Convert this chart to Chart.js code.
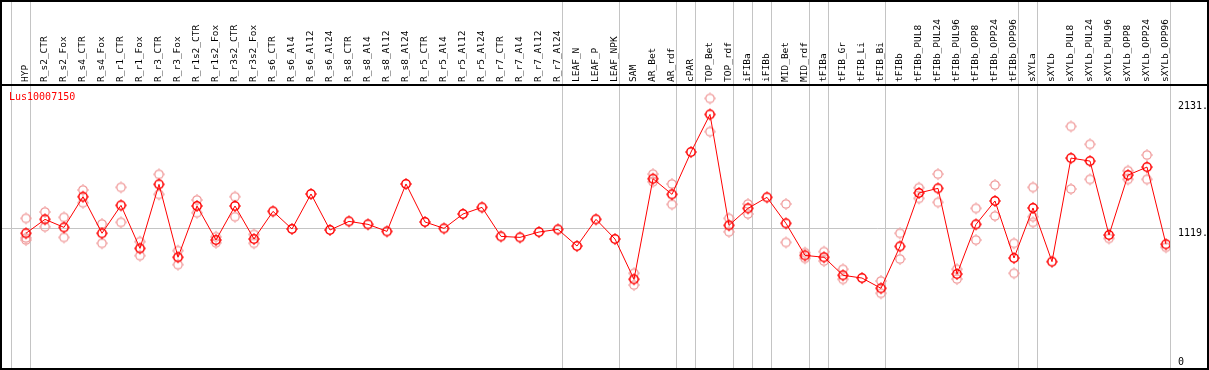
<!DOCTYPE html>
<html><head><meta charset="utf-8">
<script src="https://cdn.jsdelivr.net/npm/chart.js@4.4.1/dist/chart.umd.min.js"></script>
<style>html,body{margin:0;padding:0;background:#fff}#wrap{width:1209px;height:370px;position:relative}</style>
</head><body><div id="wrap"><canvas id="c"></canvas></div>
<script>
const categories = ['HYP','R_s2_CTR','R_s2_Fox','R_s4_CTR','R_s4_Fox','R_r1_CTR','R_r1_Fox','R_r3_CTR','R_r3_Fox','R_r1s2_CTR','R_r1s2_Fox','R_r3s2_CTR','R_r3s2_Fox','R_s6_CTR','R_s6_Al4','R_s6_Al12','R_s6_Al24','R_s8_CTR','R_s8_Al4','R_s8_Al12','R_s8_Al24','R_r5_CTR','R_r5_Al4','R_r5_Al12','R_r5_Al24','R_r7_CTR','R_r7_Al4','R_r7_Al12','R_r7_Al24','LEAF_N','LEAF_P','LEAF_NPK','SAM','AR_Bet','AR_rdf','cPAR','TOP_Bet','TOP_rdf','iFIBa','iFIBb','MID_Bet','MID_rdf','tFIBa','tFIB_Gr','tFIB_Li','tFIB_Bi','tFIBb','tFIBb_PUL8','tFIBb_PUL24','tFIBb_PUL96','tFIBb_OPP8','tFIBb_OPP24','tFIBb_OPP96','sXYLa','sXYLb','sXYLb_PUL8','sXYLb_PUL24','sXYLb_PUL96','sXYLb_OPP8','sXYLb_OPP24','sXYLb_OPP96'];
const meanValues = [1077,1188,1124,1369,1077,1300,956,1468,885,1295,1023,1295,1031,1252,1111,1391,1103,1172,1148,1092,1471,1167,1116,1231,1284,1052,1044,1087,1108,975,1188,1031,709,1513,1388,1726,2027,1140,1276,1364,1156,900,885,741,719,637,972,1399,1436,751,1148,1335,879,1279,850,1678,1654,1063,1542,1606,989];
const repHigh = [1196,1247,1204,1423,1151,1444,1010,1548,938,1343,1049,1369,1068,null,null,null,null,null,null,null,null,null,null,null,null,null,null,null,null,null,null,null,757,1550,1471,null,2155,1196,1311,null,1311,922,930,789,null,695,1077,1441,1550,789,1276,1463,997,1444,null,1931,1788,null,1577,1702,null];
const repLow = [1023,1129,1044,1321,997,1164,898,1388,826,1241,1001,1209,997,null,null,null,null,null,null,null,null,null,null,null,null,null,null,null,null,null,null,null,663,1489,1308,null,1889,1089,1231,null,1004,877,855,709,null,597,871,1356,1324,711,1023,1215,757,1164,null,1431,1508,1036,1508,1508,965];
const repExtra = [1040,null,null,null,null,null,null,null,null,null,null,null,null,null,null,null,null,null,null,null,null,null,null,null,null,null,null,null,null,null,null,null,null,null,null,null,null,null,null,null,null,null,null,null,null,null,null,null,null,null,null,null,null,1209,null,null,null,null,null,null,null];
const yTickValues = [0, 1119, 2131];
const yTickLabels = ['0', '1119.', '2131.'];
const groupEnds = [-1, 0, 28, 31, 34, 35, 37, 38, 39, 41, 42, 45, 52, 53, 60];
const geneName = 'Lus10007150';

function marker(color, lw) {
  const c = document.createElement('canvas');
  c.width = 14; c.height = 14;
  const g = c.getContext('2d');
  g.strokeStyle = color; g.lineWidth = lw;
  g.beginPath(); g.arc(7, 7, 4.2, 0, Math.PI * 2); g.stroke();
  g.fillStyle = color;
  g.fillRect(6.5, 1, 1, 1.2);
  g.fillRect(6.5, 11.8, 1, 1.2);
  g.fillRect(1, 6.5, 1.2, 1);
  g.fillRect(11.8, 6.5, 1.2, 1);
  return c;
}
const mainMarker = marker('#ff0000', 1.5);
const paleMarker = marker('#f09a9a', 1.3);

const toPts = arr => arr.map((v, i) => v == null ? null : {x: i, y: v}).filter(p => p);

const decor = {
  id: 'decor',
  beforeDraw(chart) {
    const {ctx, chartArea, scales: {x}} = chart;
    ctx.save();
    ctx.strokeStyle = '#c4c4c4'; ctx.lineWidth = 1;
    groupEnds.forEach(i => {
      const px = Math.round(x.getPixelForValue(i + 0.23)) + 0.5;
      ctx.beginPath(); ctx.moveTo(px, 0); ctx.lineTo(px, chartArea.bottom); ctx.stroke();
    });
    ctx.restore();
  },
  afterDraw(chart) {
    const {ctx, chartArea} = chart;
    ctx.save();
    ctx.fillStyle = '#000';
    ctx.fillRect(0, 0, 1209, 2);
    ctx.fillRect(0, chartArea.top - 1, 1209, 2);
    ctx.fillRect(0, chartArea.bottom, 1209, 2);
    ctx.fillRect(0, 0, 2, 370);
    ctx.fillRect(1207, 0, 2, 370);
    ctx.fillStyle = '#ff0000';
    ctx.font = '10px "DejaVu Sans Mono"';
    ctx.textBaseline = 'middle';
    ctx.fillText(geneName, chartArea.left + 8, chartArea.top + 12);
    ctx.restore();
  }
};

new Chart(document.getElementById('c'), {
  type: 'line',
  data: {
    datasets: [
      {data: toPts(meanValues), borderColor: '#ff0000', borderWidth: 1, pointStyle: mainMarker, pointRadius: 5, tension: 0, fill: false},
      {data: toPts(repHigh), showLine: false, pointStyle: paleMarker, pointRadius: 5},
      {data: toPts(repLow), showLine: false, pointStyle: paleMarker, pointRadius: 5},
      {data: toPts(repExtra), showLine: false, pointStyle: paleMarker, pointRadius: 5}
    ]
  },
  options: {
    responsive: true, maintainAspectRatio: false, animation: false,
    layout: {autoPadding: false, padding: {left: 1, right: 1, top: 0, bottom: 2}},
    plugins: {legend: {display: false}, tooltip: {enabled: false}, title: {display: false}},
    scales: {
      x: {
        type: 'linear', position: 'top', min: -25 / 19, max: 1144 / 19,
        afterBuildTicks: s => { s.ticks = categories.map((_, i) => ({value: i})); },
        afterFit: s => { s.height = 85; s.paddingLeft = 0; s.paddingRight = 0; },
        ticks: {autoSkip: false, minRotation: 90, maxRotation: 90, padding: 3, color: '#000', labelOffset: 11,
          font: {family: 'DejaVu Sans Mono', size: 9.5},
          callback: v => categories[v] ?? ''},
        grid: {display: false, drawTicks: false},
        border: {display: false}
      },
      y: {
        type: 'linear', position: 'right', min: 0, max: 2262,
        afterBuildTicks: s => { s.ticks = yTickValues.map(v => ({value: v})); },
        afterFit: s => { s.width = 38; s.paddingTop = 0; s.paddingBottom = 0; },
        ticks: {padding: 8, color: '#000', font: {family: 'DejaVu Sans Mono', size: 10, lineHeight: 1.1},
          callback: v => { const t = yTickLabels[yTickValues.indexOf(v)]; return v === 0 ? [t, ''] : ['', t]; }},
        grid: {drawTicks: false, color: c => (c.tick && c.tick.value === 1119) ? '#c4c4c4' : 'rgba(0,0,0,0)'},
        border: {display: false}
      }
    }
  },
  plugins: [decor]
});
</script>
</body></html>
